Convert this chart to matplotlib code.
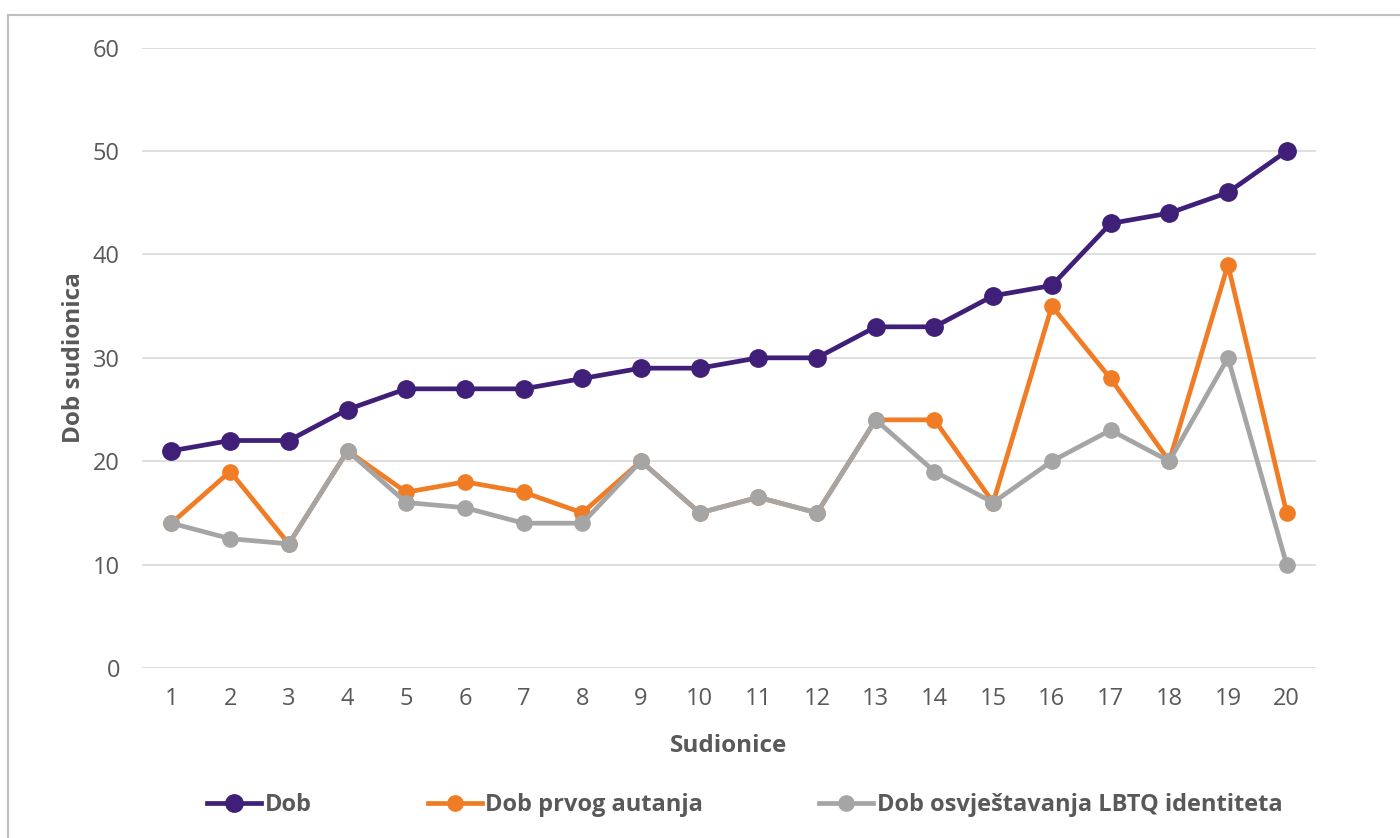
import matplotlib
matplotlib.use("Agg")
import matplotlib.pyplot as plt
from matplotlib.lines import Line2D

# participant numbers and ages
sudionice = list(range(1, 21))
dob = [21, 22, 22, 25, 27, 27, 27, 28, 29, 29, 30, 30, 33, 33, 36, 37, 43, 44, 46, 50]
dob_autanja = [14, 19, 12, 21, 17, 18, 17, 15, 20, 15, 16.5, 15, 24, 24, 16, 35, 28, 20, 39, 15]
dob_osvjestavanja = [14, 12.5, 12, 21, 16, 15.5, 14, 14, 20, 15, 16.5, 15, 24, 19, 16, 20, 23, 20, 30, 10]
y_ticks = [0, 10, 20, 30, 40, 50, 60]

plt.rcParams['font.family'] = ['Open Sans', 'DejaVu Sans']

fig = plt.figure(figsize=(14, 8.38), dpi=100)
ax = fig.add_axes([0.1015, 0.203, 0.8385, 0.740])

ax.plot(sudionice, dob, color='#3F1F78', lw=3.4, marker='o', ms=12.5, label='Dob', zorder=3)
ax.plot(sudionice, dob_autanja, color='#F07D26', lw=3.4, marker='o', ms=11, label='Dob prvog autanja', zorder=4)
ax.plot(sudionice, dob_osvjestavanja, color='#A5A5A5', lw=3.4, marker='o', ms=11,
        label='Dob osvještavanja LBTQ identiteta', zorder=5)

ax.set_xlim(0.5, 20.5)
ax.set_ylim(0, 60)
ax.set_xticks(sudionice)
ax.set_yticks(y_ticks)
ax.tick_params(length=0, labelsize=17, labelcolor='#595959')
ax.tick_params(axis='x', pad=14)
ax.tick_params(axis='y', pad=16)
ax.grid(axis='y', color='#D9D9D9', lw=1.2)
ax.set_axisbelow(True)
for s in ax.spines.values():
    s.set_visible(False)

ax.set_xlabel('Sudionice', fontsize=17.5, fontweight='bold', color='#595959', labelpad=16)
ax.set_ylabel('Dob sudionica', fontsize=17.5, fontweight='bold', color='#595959', labelpad=5)

# legend along the bottom
handles, labels = ax.get_legend_handles_labels()
fig.legend(handles, labels, loc='center', bbox_to_anchor=(0.532, 0.039), ncol=3,
           frameon=False, handlelength=2.3, handletextpad=0.15,
           columnspacing=4.9, prop={'weight': 'bold', 'size': 17})
for t in fig.legends[0].get_texts():
    t.set_color('#595959')

# outer frame lines (left and top)
fig.add_artist(Line2D([8/1400, 8/1400], [0, 1 - 15/838], color='#BFBFBF', lw=1.5))
fig.add_artist(Line2D([8/1400, 1], [1 - 15/838, 1 - 15/838], color='#BFBFBF', lw=1.5))

fig.savefig('out.png', dpi=100)
